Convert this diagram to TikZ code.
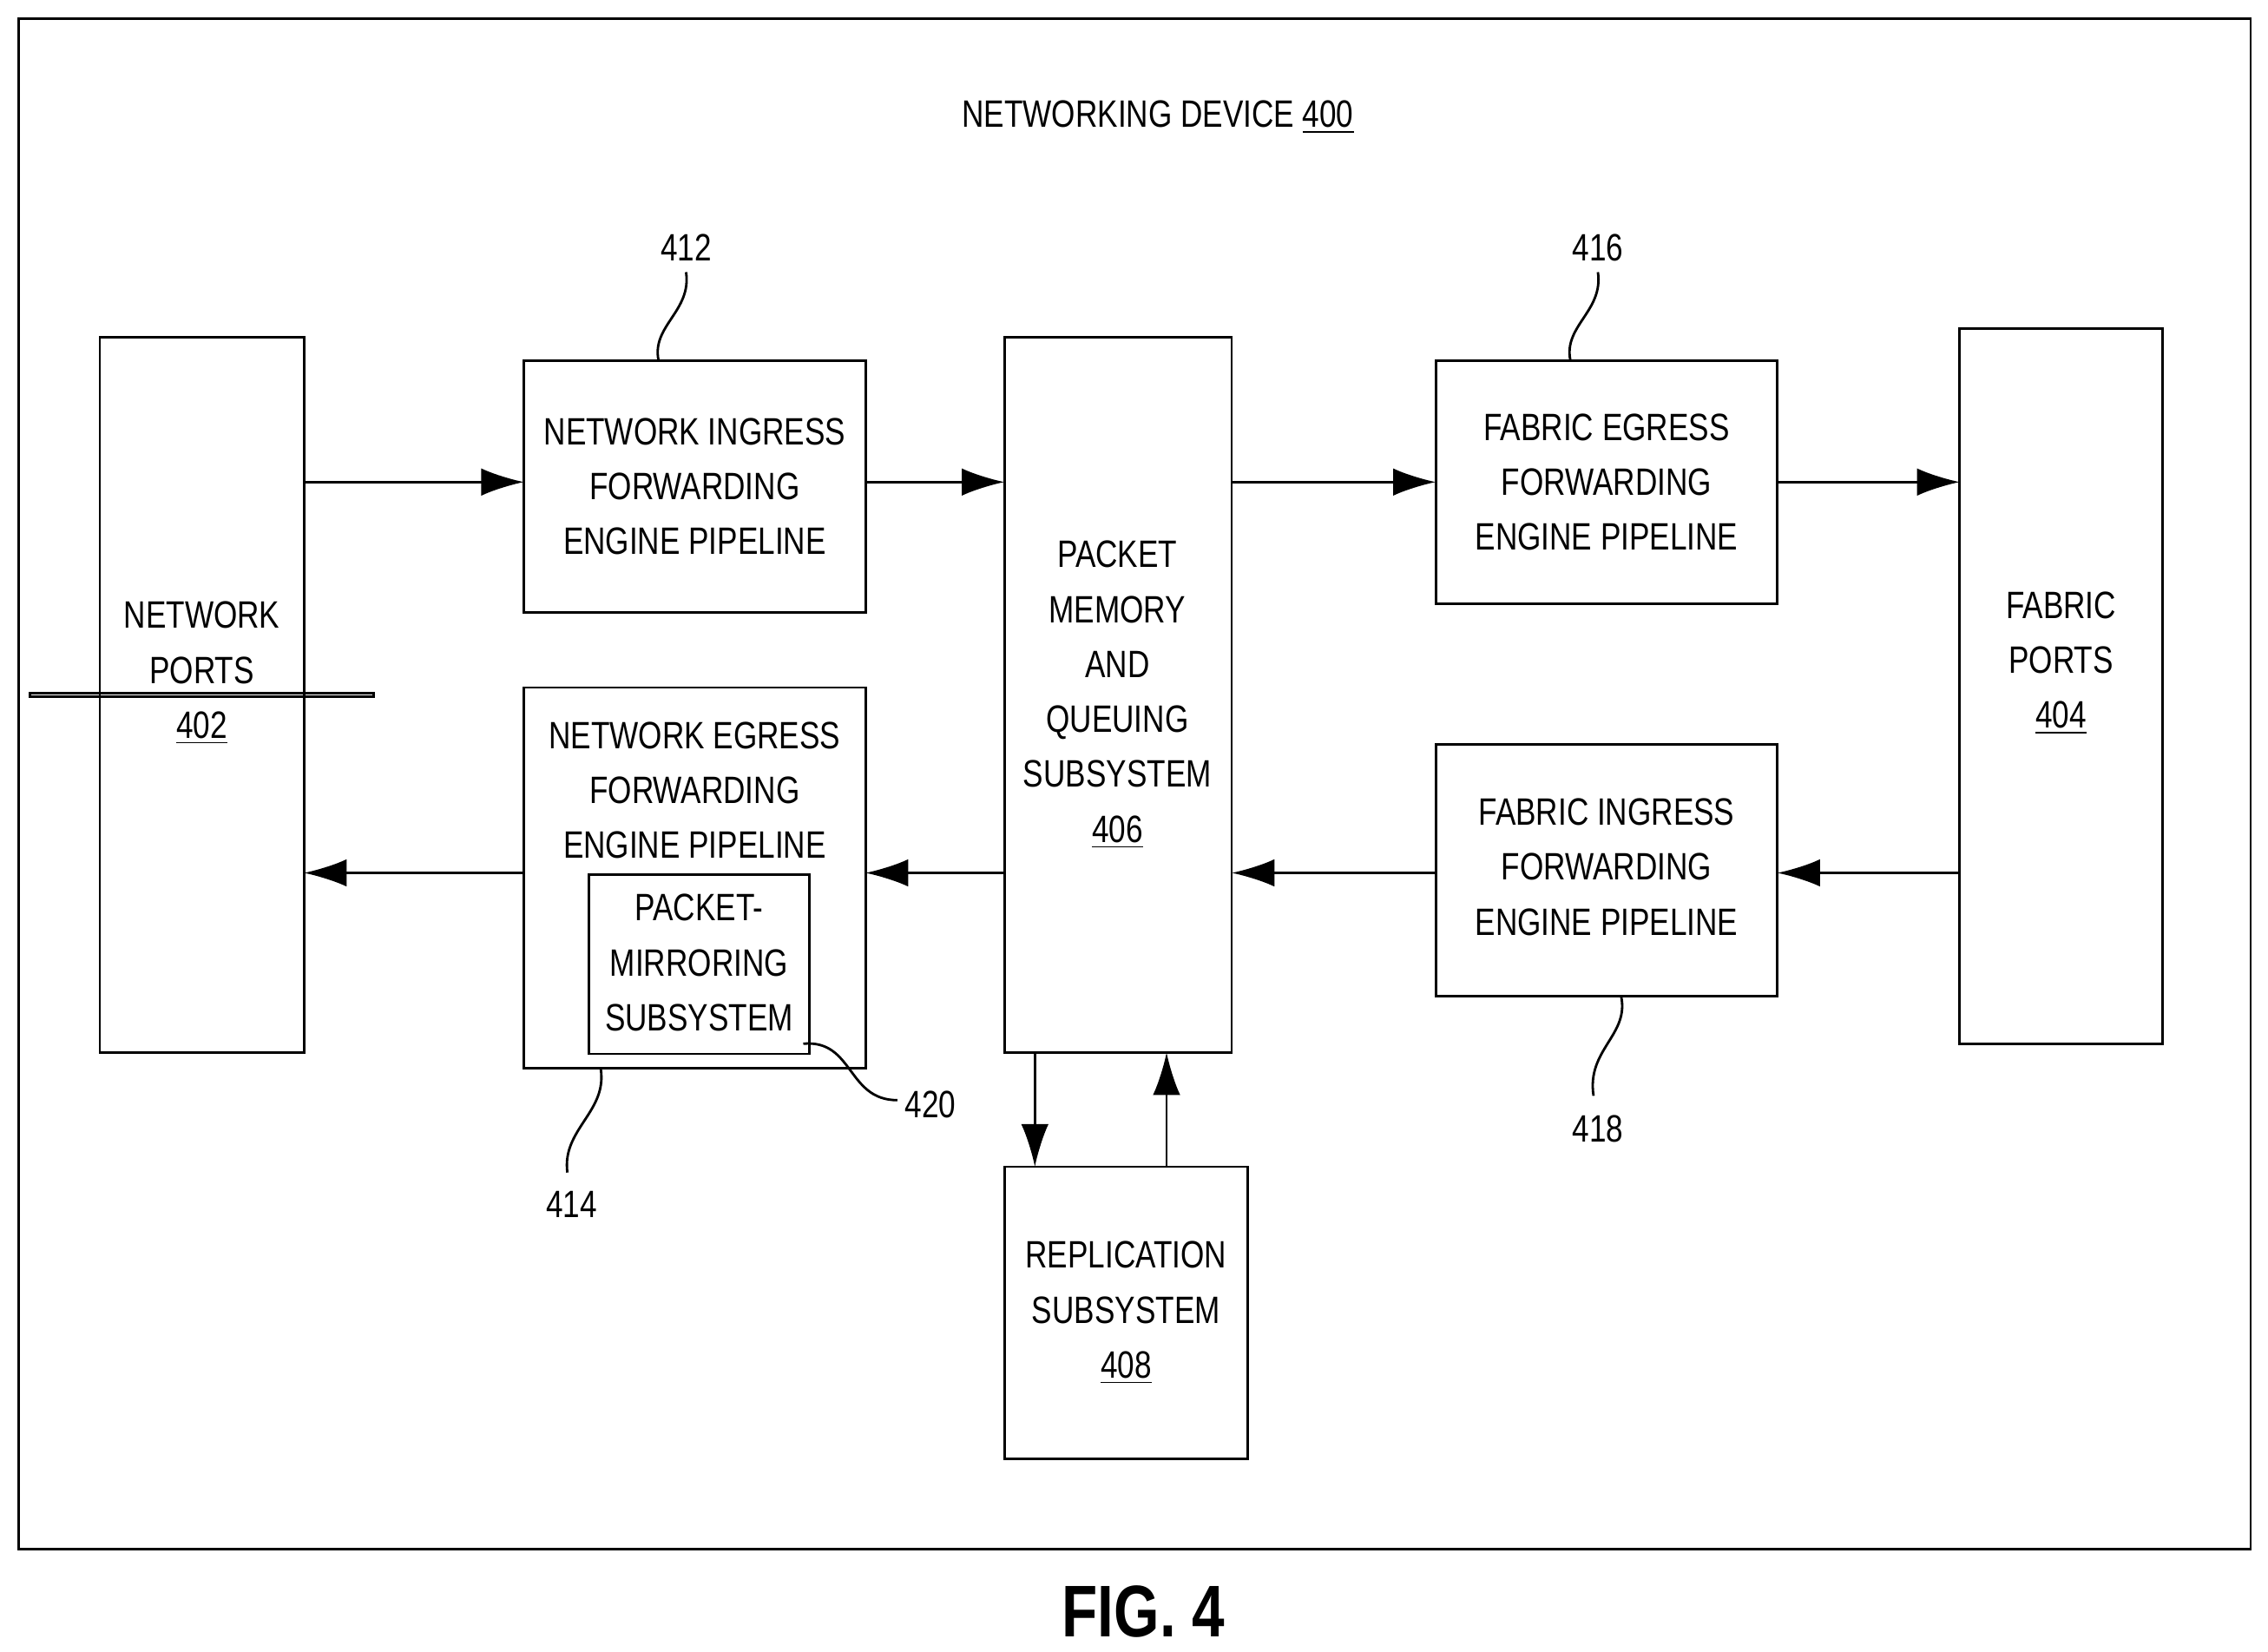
\documentclass[tikz,border=0pt]{standalone}
\usepackage{fontspec}
\setmainfont{Liberation Sans}[FakeStretch=0.8]
\usetikzlibrary{arrows.meta}
\tikzstyle{blk} = [draw=black, thick, rectangle, align=center, inner sep=0pt, font=\fontsize{12.5}{18}\selectfont]
\tikzstyle{lbl} = [font=\fontsize{12.5}{15}\selectfont]
\tikzstyle{flow} = [thick, -{Latex[length=14pt,width=9pt]}]
\tikzstyle{lead} = [thick]

\begin{document}
\begin{tikzpicture}[x=0.016675cm, y=-0.016675cm]
\useasboundingbox (0,0) rectangle (1567,1141);
\draw[thick] (13,13) rectangle (1555,1070);
\node[lbl] (title) at (800,81) {NETWORKING DEVICE \underline{400}};
% blocks
\node[blk, minimum width=141\pgflinewidth] (np) at (139.5,480) {};
\draw[thick] (69,233) rectangle (210,727);
\node[blk, draw=none] (nptext) at (139.5,465) {NETWORK\\PORTS\\\underline{402}};
\draw[thick] (362,249) rectangle (598,423);
\node[blk, draw=none] (nif) at (480,336) {NETWORK INGRESS\\FORWARDING\\ENGINE PIPELINE};
\draw[thick] (362,475) rectangle (598,738);
\node[blk, draw=none] (nef) at (480,546) {NETWORK EGRESS\\FORWARDING\\ENGINE PIPELINE};
\draw[thick] (407,604) rectangle (559,728);
\node[blk, draw=none] (pms) at (483,665) {PACKET-\\MIRRORING\\SUBSYSTEM};
\draw[thick] (694,233) rectangle (851,727);
\node[blk, draw=none] (pmq) at (772,480) {PACKET\\MEMORY\\AND\\QUEUING\\SUBSYSTEM\\\underline{406}};
\draw[thick] (694,806) rectangle (862,1008);
\node[blk, draw=none] (rep) at (778,907) {REPLICATION\\SUBSYSTEM\\\underline{408}};
\draw[thick] (992,249) rectangle (1228,417);
\node[blk, draw=none] (fef) at (1110,333) {FABRIC EGRESS\\FORWARDING\\ENGINE PIPELINE};
\draw[thick] (992,514) rectangle (1228,688);
\node[blk, draw=none] (fif) at (1110,599) {FABRIC INGRESS\\FORWARDING\\ENGINE PIPELINE};
\draw[thick] (1354,227) rectangle (1494,721);
\node[blk, draw=none] (fp) at (1424,458) {FABRIC\\PORTS\\\underline{404}};
% connectors
\coordinate (a1) at (210,333); \coordinate (a2) at (362,333);
\coordinate (b1) at (598,333); \coordinate (b2) at (694,333);
\coordinate (c1) at (851,333); \coordinate (c2) at (992,333);
\coordinate (d1) at (1228,333); \coordinate (d2) at (1354,333);
\coordinate (e1) at (1354,603); \coordinate (e2) at (1228,603);
\coordinate (f1) at (992,603); \coordinate (f2) at (851,603);
\coordinate (g1) at (694,603); \coordinate (g2) at (598,603);
\coordinate (h1) at (362,603); \coordinate (h2) at (210,603);
\coordinate (r1) at (715,727); \coordinate (r2) at (715,806);
\coordinate (s1) at (806,806); \coordinate (s2) at (806,727);
\foreach \p/\q in {a1/a2,b1/b2,c1/c2,d1/d2,e1/e2,f1/f2,g1/g2,h1/h2,r1/r2,s1/s2}
  \draw[flow] (\p) -- (\q);
% reference numerals
\node[lbl] (n412) at (474,171) {412};
\draw[lead] (455,249) .. controls (450,225) and (478,215) .. (474,188);
\node[lbl] (n416) at (1104,171) {416};
\draw[lead] (1085,249) .. controls (1080,225) and (1108,215) .. (1104,188);
\node[lbl] (n418) at (1104,780) {418};
\draw[lead] (1120,688) .. controls (1126,715) and (1096,725) .. (1101,757);
\node[lbl] (n414) at (395,832) {414};
\draw[lead] (415,738) .. controls (420,768) and (388,780) .. (392,810);
\node[lbl] (n420) at (643,763) {420};
\draw[lead] (555,721) .. controls (590,718) and (585,760) .. (620,760);
\node[font=\bfseries\fontsize{24}{28}\selectfont] (fig) at (790,1113) {FIG. 4};
\end{tikzpicture}
\end{document}
